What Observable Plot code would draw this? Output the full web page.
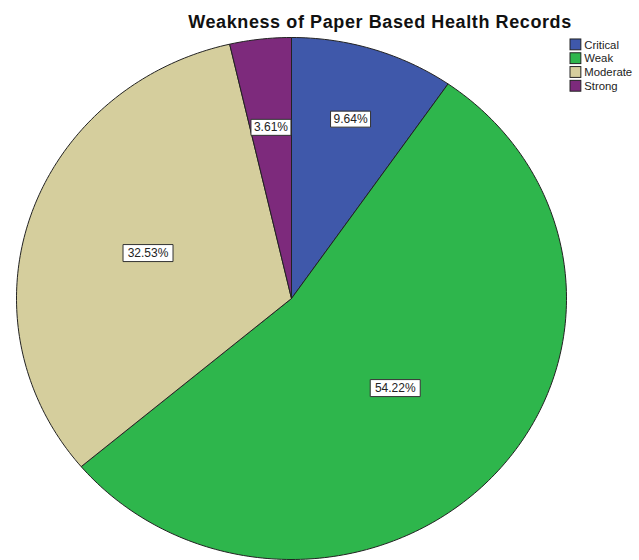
<!DOCTYPE html>
<html>
<head>
<meta charset="utf-8">
<script src="https://cdn.jsdelivr.net/npm/d3@7"></script>
<script src="https://cdn.jsdelivr.net/npm/@observablehq/plot@0.6"></script>
<style>
  html, body { margin: 0; padding: 0; background: #fff; }
  #wrap { position: relative; width: 639px; height: 560px; overflow: hidden; }
  #legend { position: absolute; left: 570px; top: 37px; }
  #chart g[font-weight="bold"] text { letter-spacing: 0.6px; }
</style>
</head>
<body>
<div id="wrap"><div id="chart"></div><div id="legend"></div></div>
<script>
const title = "Weakness of Paper Based Health Records";
const categories = ["Critical", "Weak", "Moderate", "Strong"];
const percents = [9.64, 54.22, 32.53, 3.61];
const colors = ["#3F58AA", "#2EB64C", "#D5CE9D", "#7D2A7C"];

const W = 639, H = 560;
const cx = 291, cy = 298, rx = 275, ry = 261;
const font = "'Liberation Sans', Arial, sans-serif";

const arcs = d3.pie().sort(null).value(d => d.value)(
  categories.map((c, i) => ({cat: c, value: percents[i]}))
);

// wedge outlines built from the pie angles
const wedgePts = [];
for (const a of arcs) {
  const n = Math.max(2, Math.ceil((a.endAngle - a.startAngle) / (2 * Math.PI) * 360));
  wedgePts.push({cat: a.data.cat, x: 0, y: 0});
  for (let k = 0; k <= n; k++) {
    const t = a.startAngle + (a.endAngle - a.startAngle) * k / n;
    wedgePts.push({cat: a.data.cat, x: Math.sin(t), y: Math.cos(t)});
  }
  wedgePts.push({cat: a.data.cat, x: 0, y: 0});
}

// label placement (radius fraction along each slice's mid-angle)
const labelR = {Critical: 0.72, Weak: 0.51, Moderate: 0.55, Strong: 0.66};
const labels = arcs.map(a => {
  const m = (a.startAngle + a.endAngle) / 2;
  const r = labelR[a.data.cat];
  return {cat: a.data.cat, x: r * Math.sin(m), y: r * Math.cos(m), text: a.data.value.toFixed(2) + "%"};
});

const box = (w, h) => ({draw(ctx) { ctx.rect(-w / 2, -h / 2, w, h); }});

const colorScale = {domain: categories, range: colors};

const chart = Plot.plot({
  width: W, height: H,
  margin: 0,
  x: {domain: [-cx / rx, (W - cx) / rx], range: [0, W], axis: null},
  y: {domain: [-(H - cy) / ry, cy / ry], range: [H, 0], axis: null},
  color: colorScale,
  style: {fontFamily: font, background: "#fff", overflow: "visible"},
  marks: [
    Plot.line(wedgePts, {x: "x", y: "y", z: "cat", fill: "cat", stroke: "#222", strokeWidth: 1, strokeLinejoin: "round"}),
    Plot.dot(labels, {filter: d => d.text.length <= 5, x: "x", y: "y", symbol: box(40, 16), r: 5, fill: "#fff", stroke: "#333", strokeWidth: 1}),
    Plot.dot(labels, {filter: d => d.text.length > 5, x: "x", y: "y", symbol: box(50, 17), r: 5, fill: "#fff", stroke: "#333", strokeWidth: 1}),
    Plot.text(labels, {x: "x", y: "y", text: "text", fontSize: 12, fill: "#222"}),
    Plot.text([title], {frameAnchor: "top", dx: 60, dy: 27, lineAnchor: "bottom", fontSize: 18, fontWeight: "bold", fill: "#111"})
  ]
});
document.getElementById("chart").appendChild(chart);

const legend = Plot.plot({
  width: 70, height: 58,
  marginTop: 0, marginBottom: 0, marginLeft: 0, marginRight: 59,
  y: {domain: categories, axis: null, paddingInner: 0.2, paddingOuter: 0.1},
  color: colorScale,
  style: {fontFamily: font, background: "transparent", overflow: "visible"},
  marks: [
    Plot.cell(categories, {y: d => d, fill: d => d, stroke: "#222", strokeWidth: 1}),
    Plot.text(categories, {y: d => d, text: d => d, frameAnchor: "right", textAnchor: "start", dx: 3, fontSize: 11.5, fill: "#222"})
  ]
});
document.getElementById("legend").appendChild(legend);
</script>
</body>
</html>
